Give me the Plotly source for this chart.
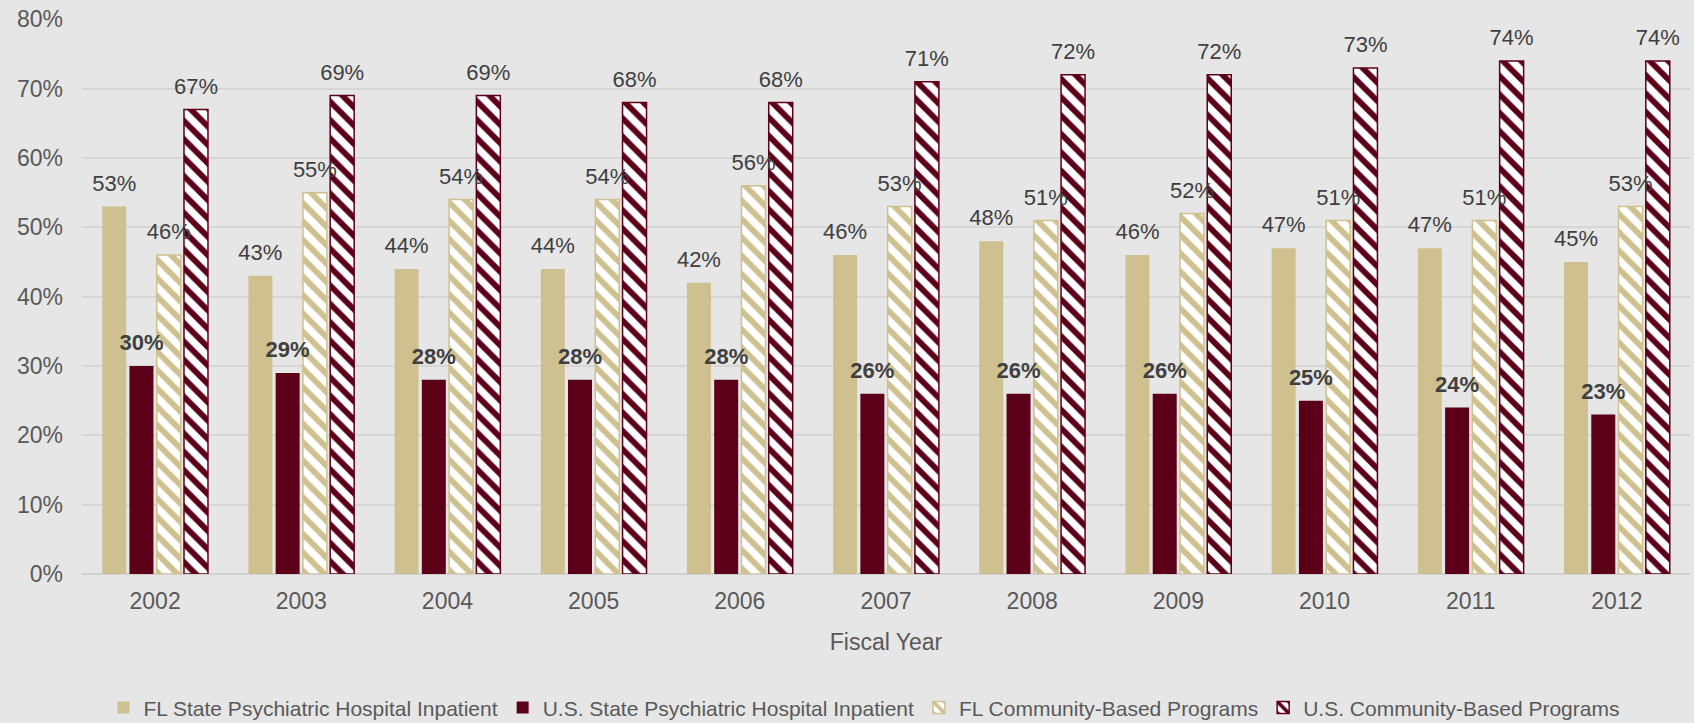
import plotly.graph_objects as go

years = ["2002", "2003", "2004", "2005", "2006", "2007", "2008", "2009", "2010", "2011", "2012"]
fl_hosp = [53, 43, 44, 44, 42, 46, 48, 46, 47, 47, 45]
us_hosp = [30, 29, 28, 28, 28, 26, 26, 26, 25, 24, 23]
fl_comm = [46, 55, 54, 54, 56, 53, 51, 52, 51, 51, 53]
us_comm = [67, 69, 69, 68, 68, 71, 72, 72, 73, 74, 74]

names = ["FL State Psychiatric Hospital Inpatient",
         "U.S. State Psychiatric Hospital Inpatient",
         "FL Community-Based Programs",
         "U.S. Community-Based Programs"]

TAN = "#CEC08F"
MAROON = "#5C0019"
BG = "#E6E6E6"
FONT = "Liberation Sans, Arial, sans-serif"
LABEL = "#404040"
TICK = "#595959"

series = [fl_hosp, us_hosp, fl_comm, us_comm]
colors = [TAN, MAROON, TAN, MAROON]
patterned = [False, False, True, True]
bold = [False, True, False, False]

fig = go.Figure()
for i, (vals, name, col, pat) in enumerate(zip(series, names, colors, patterned)):
    yv = [v / 100 for v in vals]
    if pat:
        marker = dict(color="white",
                      line=dict(color=col, width=1.5),
                      pattern=dict(shape="\\", fgcolor=col, bgcolor="white",
                                   size=13, solidity=0.45, fillmode="replace"))
    else:
        marker = dict(color=col, line=dict(width=0))
    fig.add_trace(go.Bar(x=years, y=yv, name=name, marker=marker,
                         offsetgroup=str(i), hoverinfo="skip"))
for i, (vals, b) in enumerate(zip(series, bold)):
    yv = [v / 100 for v in vals]
    fig.add_trace(go.Scatter(
        x=years, y=yv, mode="markers+text", offsetgroup=str(i),
        text=[f"{v}%" for v in vals], textposition="top center",
        marker=dict(size=15, opacity=0),
        textfont=dict(family=FONT, size=22, color=LABEL,
                      weight="bold" if b else "normal"),
        showlegend=False, hoverinfo="skip", cliponaxis=False))

fig.update_layout(
    width=1694, height=723, autosize=False,
    paper_bgcolor=BG, plot_bgcolor=BG,
    margin=dict(l=82, r=4, t=19, b=149),
    barmode="group", bargap=0.254, bargroupgap=0.12,
    scattermode="group", scattergap=0.254,
    font=dict(family=FONT, color=TICK, size=23),
    showlegend=True,
    legend=dict(orientation="h", xref="container", yref="container",
                x=0.51, xanchor="center", y=0.021, yanchor="middle",
                font=dict(family=FONT, size=21, color=TICK),
                bgcolor="rgba(0,0,0,0)", traceorder="normal"),
    xaxis=dict(type="category", showgrid=False, zeroline=False, showline=False,
               ticks="", tickfont=dict(size=23, color=TICK), ticklabelstandoff=11,
               title=dict(text="Fiscal Year", font=dict(size=23, color=TICK), standoff=20)),
    yaxis=dict(range=[0, 0.8005], dtick=0.1, tickformat=".0%", showgrid=True,
               gridcolor="#D6D6D6", gridwidth=1.5, zeroline=True,
               zerolinecolor="#D0D0D0", zerolinewidth=2,
               ticks="", tickfont=dict(size=23, color=TICK), ticklabelstandoff=18),
)

fig.write_html("out.html",
               config={"displayModeBar": False},
               post_script="document.body.style.margin='0';"
                           "document.body.style.overflow='hidden';"
                           "document.body.style.background='#E6E6E6';")
